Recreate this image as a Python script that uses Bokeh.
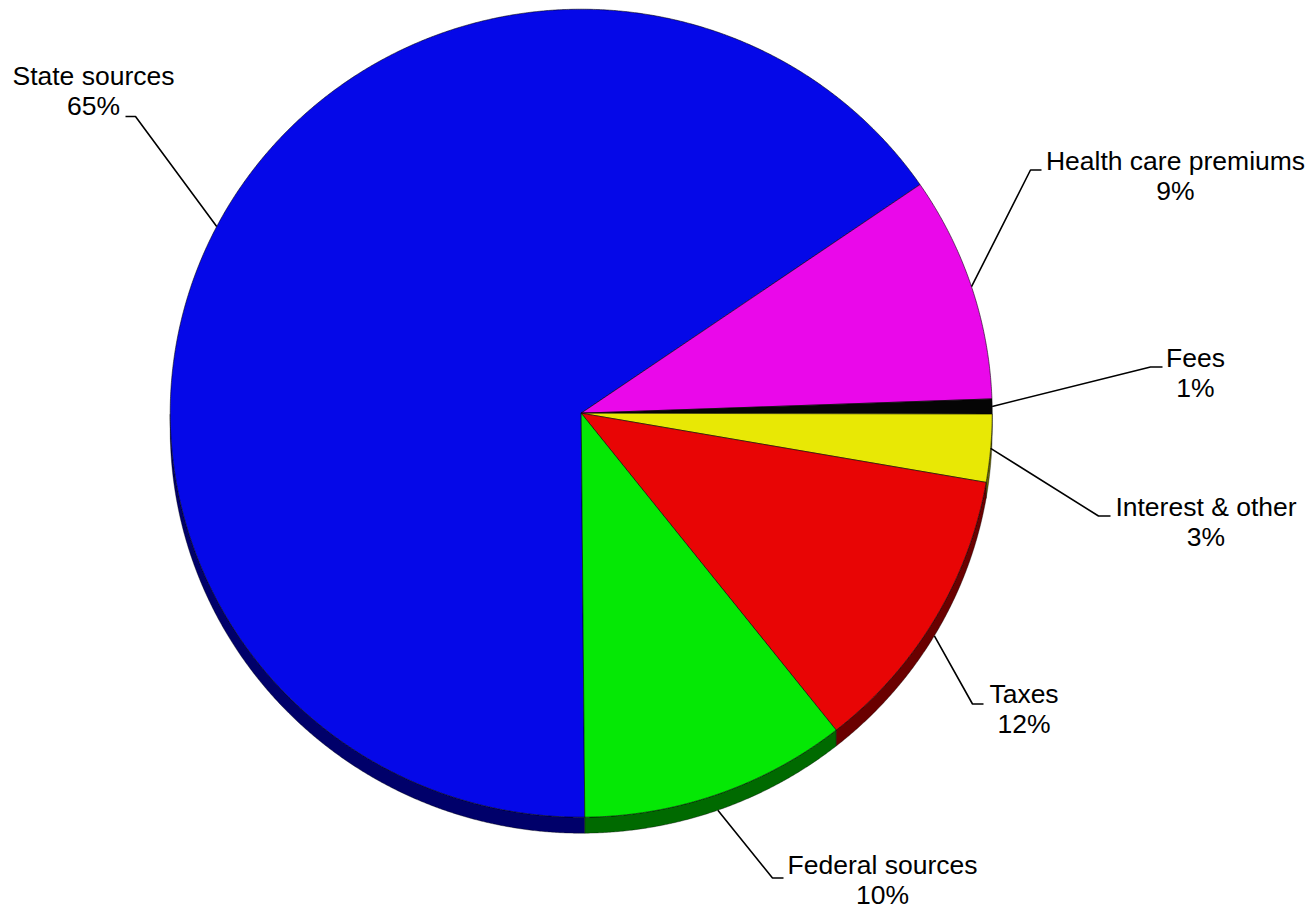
import numpy as np
from bokeh.plotting import figure
from bokeh.models import Range1d
from bokeh.core.properties import value
from bokeh.embed import file_html
from bokeh.resources import INLINE

# ---- data ----
categories = ["State sources", "Health care premiums", "Fees", "Interest & other", "Taxes", "Federal sources"]
shares = [65.5, 9.0, 0.6, 2.7, 11.6, 10.5]
pct_labels = ["65%", "9%", "1%", "3%", "12%", "10%"]

# ---- styles / layout ----
top_colors = ["#0508E8", "#EA08EA", "#050505", "#E8E805", "#E80505", "#05E805"]
side_colors = ["#00006A", "#6A006A", "#000000", "#6A6A00", "#6A0000", "#006A00"]
W, H = 1316, 909
cx, cy, rx, ry, depth = 580.7, 412.7, 411.0, 404.0, 16.0
start_deg = 270.5  # first slice starts here, slices go clockwise
# label layout: text centre x, baseline of first line, elbow x, elbow y, end x
text_shift = -9.5
label_layout = [
    (93, 84.5, 135, 116, 125),
    (1175, 169.5, 1030, 169.5, 1041),
    (1195, 366.7, 1150, 366.5, 1162),
    (1205.5, 515.7, 1098, 515.5, 1110),
    (1023.5, 702.7, 972, 703.5, 983),
    (882, 873.5, 772, 877.5, 783),
]
line_gap = 30.0

p = figure(width=W, height=H, x_range=Range1d(0, W), y_range=Range1d(H, 0),
           output_backend="svg", toolbar_location=None, min_border=0,
           x_axis_type=None, y_axis_type=None, outline_line_color=None,
           background_fill_color="white", border_fill_color="white")
p.grid.visible = False

total = float(sum(shares))
cum = np.concatenate([[0.0], np.cumsum(shares)])
a0 = np.radians(start_deg - cum[:-1] / total * 360.0)
a1 = np.radians(start_deg - cum[1:] / total * 360.0)

def ex(t):
    return cx + rx * np.cos(t)

def ey(t):
    return cy - ry * np.sin(t)

# side (extrusion) polygons for front half
side_xs, side_ys, side_c = [], [], []
for i in range(len(shares)):
    n = max(int(abs(a0[i] - a1[i]) / np.radians(0.25)), 4)
    t = np.linspace(a0[i], a1[i], n)
    vis = np.sin(t) <= 1e-9
    runs, cur = [], []
    for tt, v in zip(t, vis):
        if v:
            cur.append(tt)
        elif cur:
            runs.append(cur); cur = []
    if cur:
        runs.append(cur)
    for r in runs:
        if len(r) < 2:
            continue
        r = np.array(r)
        xs = np.concatenate([ex(r), ex(r[::-1])])
        ys = np.concatenate([ey(r), ey(r[::-1]) + depth])
        side_xs.append(list(xs)); side_ys.append(list(ys)); side_c.append(side_colors[i])

p.patches(side_xs, side_ys, fill_color=side_c, line_color="#000000", line_width=0.6, line_alpha=0.6)

# top faces
top_xs, top_ys = [], []
for i in range(len(shares)):
    n = max(int(abs(a0[i] - a1[i]) / np.radians(0.25)), 4)
    t = np.linspace(a0[i], a1[i], n)
    top_xs.append([cx] + list(ex(t)))
    top_ys.append([cy] + list(ey(t)))
p.patches(top_xs, top_ys, fill_color=top_colors, line_color="#000000", line_width=0.8, line_alpha=0.7)

# leader lines and labels
lx, ly = [], []
for i in range(len(shares)):
    m = (a0[i] + a1[i]) / 2
    sx, sy = ex(m), ey(m)
    if np.sin(m) < -0.3:
        sy += depth
    tx, by, elx, ely, enx = label_layout[i]
    lx.append([sx, elx, enx]); ly.append([sy, ely, ely])
p.multi_line(lx, ly, line_color="black", line_width=1.6)

font = value("Liberation Sans")
p.text(x=[l[0] for l in label_layout], y=[l[1] + text_shift for l in label_layout], text=categories,
       text_font=font, text_font_size="26.5px", text_align="center",
       text_baseline="alphabetic", text_color="black")
p.text(x=[l[0] for l in label_layout], y=[l[1] + line_gap + text_shift for l in label_layout], text=pct_labels,
       text_font=font, text_font_size="26.5px", text_align="center",
       text_baseline="alphabetic", text_color="black")

open("out.html", "w").write(file_html(p, INLINE))
